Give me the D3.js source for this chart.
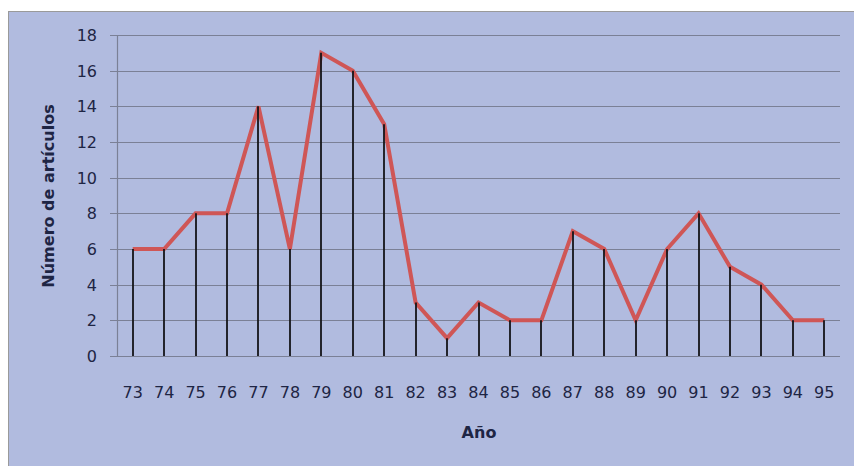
<!DOCTYPE html>
<html>
<head>
<meta charset="utf-8">
<script src="https://cdn.jsdelivr.net/npm/d3@7"></script>
<style>
  html, body { margin: 0; padding: 0; background: #ffffff; }
  svg { display: block; }
</style>
</head>
<body>
<div id="chart"></div>
<script>
// Data
const years = ['73','74','75','76','77','78','79','80','81','82','83','84','85','86','87','88','89','90','91','92','93','94','95'];
const articles = [6, 6, 8, 8, 14, 6, 17, 16, 13, 3, 1, 3, 2, 2, 7, 6, 2, 6, 8, 5, 4, 2, 2];
const yTicks = [0, 2, 4, 6, 8, 10, 12, 14, 16, 18];

const W = 854, H = 466;
const margin = { top: 35, right: 14, bottom: 110, left: 117 };
const width = W - margin.left - margin.right;
const height = H - margin.top - margin.bottom;

const svg = d3.select('#chart').append('svg')
  .attr('width', W).attr('height', H);

// chart panel background
svg.append('rect')
  .attr('x', 8.5).attr('y', 11.5)
  .attr('width', W - 8).attr('height', H - 11)
  .attr('fill', '#b1bbdf')
  .attr('stroke', '#9a9a9a')
  .attr('stroke-width', 1);

const g = svg.append('g').attr('transform', `translate(${margin.left},${margin.top})`);

const x = d3.scaleBand().domain(years).range([0, width]);
const y = d3.scaleLinear().domain([0, 18]).range([height, 0]);
const cx = (i) => x(years[i]) + x.bandwidth() / 2;

const font = "'DejaVu Sans', Verdana, sans-serif";
const textColor = '#1e2544';

// Gridlines with small tick stubs left of the axis
g.selectAll('.grid')
  .data(yTicks)
  .enter()
  .append('line')
  .attr('x1', -7).attr('x2', width)
  .attr('y1', (d) => Math.round(y(d)) + 0.5).attr('y2', (d) => Math.round(y(d)) + 0.5)
  .attr('stroke', '#7b8096')
  .attr('stroke-width', 1.2);

// Y axis line
g.append('line')
  .attr('x1', 0.5).attr('x2', 0.5)
  .attr('y1', y(18)).attr('y2', y(0))
  .attr('stroke', '#7b8096')
  .attr('stroke-width', 1.2);

// Y tick labels
g.selectAll('.ytxt')
  .data(yTicks)
  .enter()
  .append('text')
  .attr('x', -20)
  .attr('y', (d) => y(d) + 6)
  .attr('text-anchor', 'end')
  .attr('font-size', 16)
  .attr('font-family', font)
  .attr('fill', textColor)
  .text((d) => d);

// Series line
const lineGen = d3.line()
  .x((d, i) => cx(i))
  .y((d) => y(d));

g.append('path')
  .datum(articles)
  .attr('d', lineGen)
  .attr('fill', 'none')
  .attr('stroke', '#cf5656')
  .attr('stroke-width', 4)
  .attr('stroke-linejoin', 'miter');

// Drop lines (drawn over the series line)
g.selectAll('.drop')
  .data(articles)
  .enter()
  .append('line')
  .attr('x1', (d, i) => Math.round(cx(i)))
  .attr('x2', (d, i) => Math.round(cx(i)))
  .attr('y1', (d) => y(d))
  .attr('y2', y(0))
  .attr('stroke', '#141418')
  .attr('stroke-width', 1.8);

// X tick labels
g.selectAll('.xtxt')
  .data(years)
  .enter()
  .append('text')
  .attr('x', (d) => x(d) + x.bandwidth() / 2)
  .attr('y', height + 42)
  .attr('text-anchor', 'middle')
  .attr('font-size', 16)
  .attr('font-family', font)
  .attr('fill', textColor)
  .text((d) => d);

// Axis titles
svg.append('text')
  .attr('x', 479)
  .attr('y', 438)
  .attr('text-anchor', 'middle')
  .attr('font-size', 16)
  .attr('font-weight', 'bold')
  .attr('font-family', font)
  .attr('fill', textColor)
  .text('Año');

svg.append('text')
  .attr('transform', 'translate(54,196) rotate(-90)')
  .attr('text-anchor', 'middle')
  .attr('font-size', 16)
  .attr('font-weight', 'bold')
  .attr('font-family', font)
  .attr('fill', textColor)
  .text('Número de artículos');
</script>
</body>
</html>
